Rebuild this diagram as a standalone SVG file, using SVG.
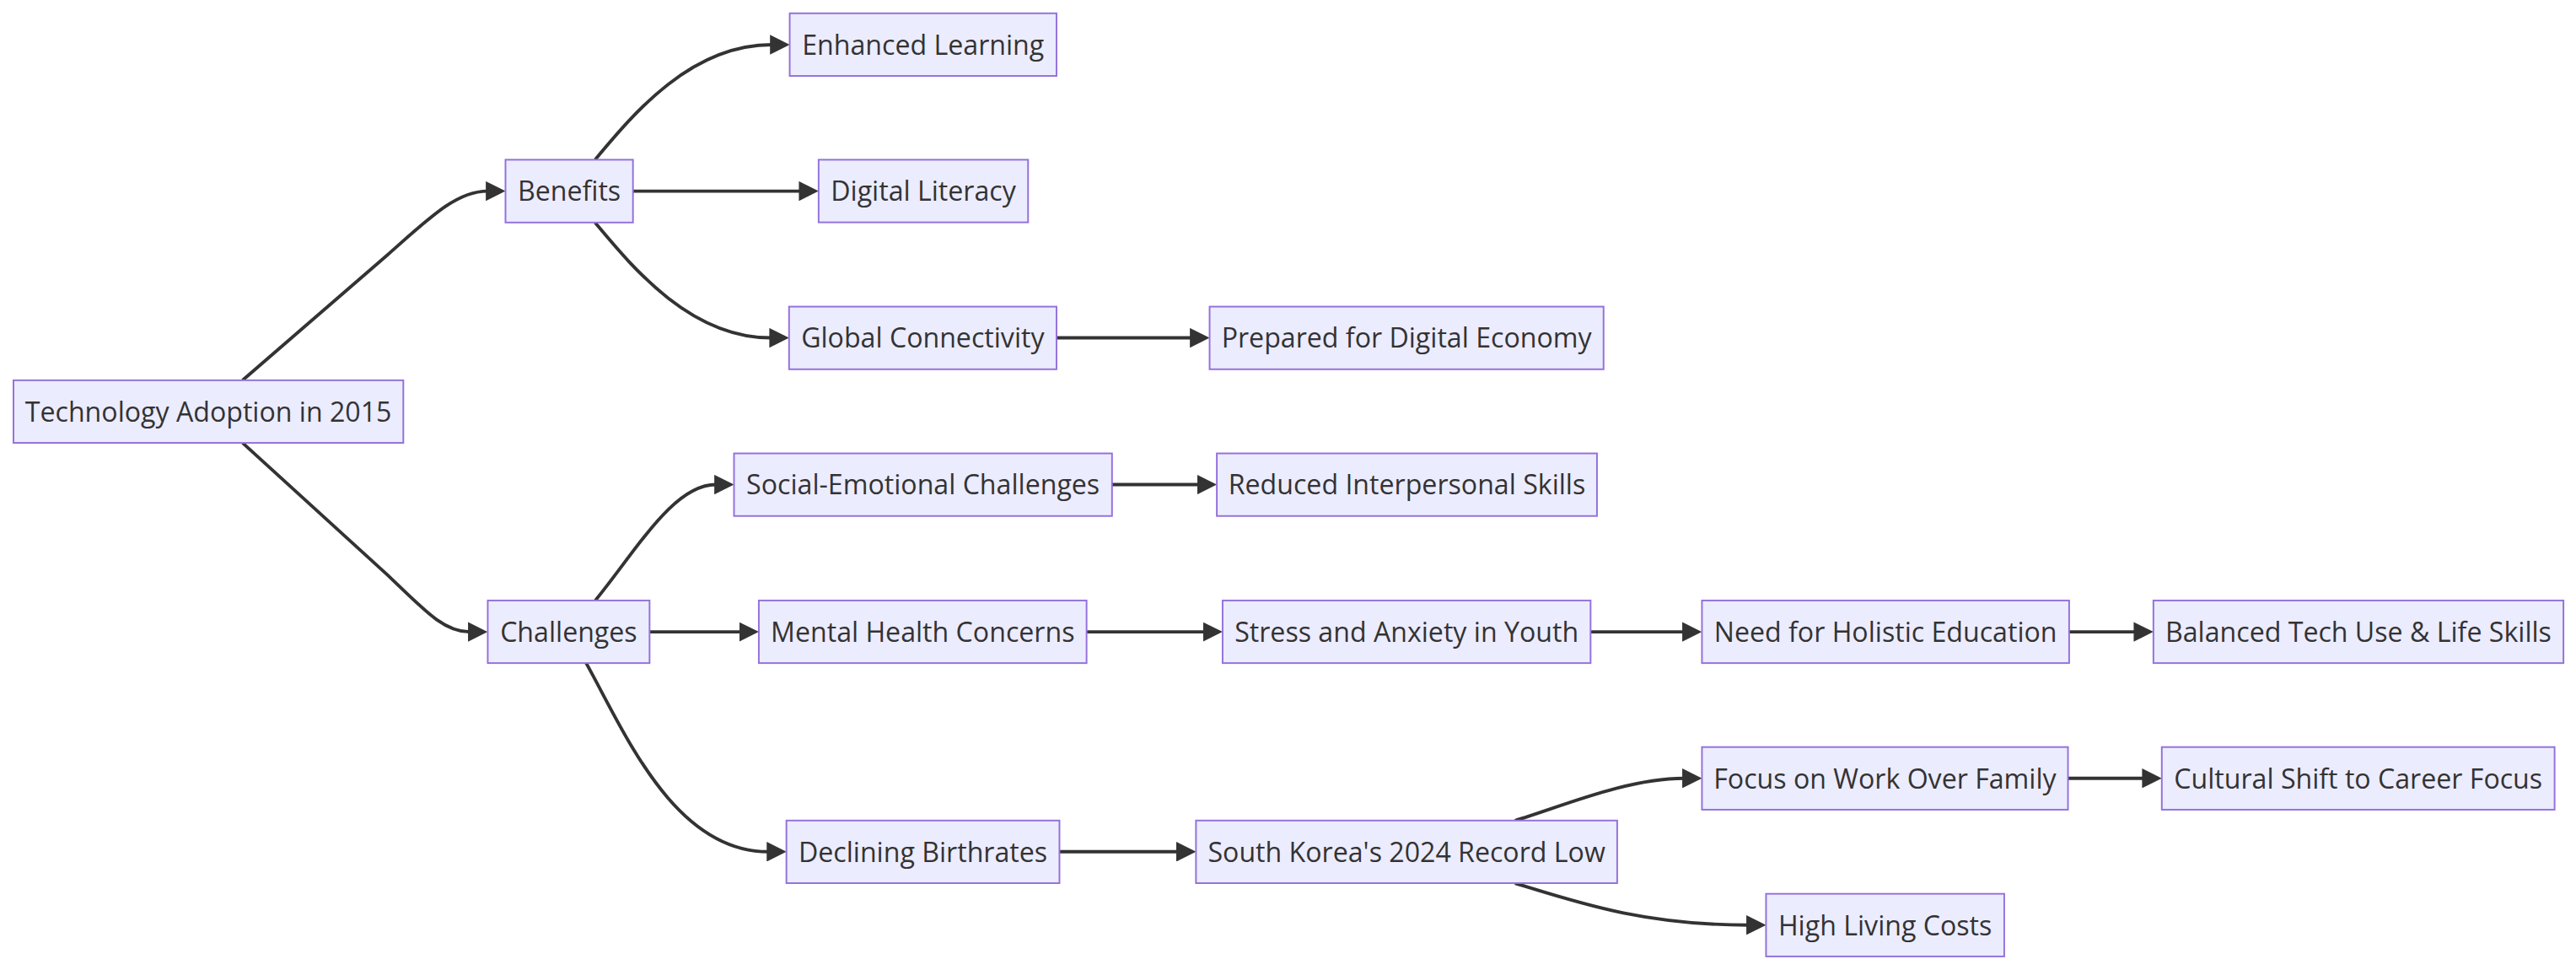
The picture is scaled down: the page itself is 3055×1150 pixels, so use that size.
<svg xmlns="http://www.w3.org/2000/svg" width="3055" height="1150" viewBox="0 0 3055 1150">
<style>
.node rect{fill:#ECECFF;stroke:#9370DB;stroke-width:1px;}
.node text{font-family:"Open Sans","Noto Sans","Liberation Sans",sans-serif;font-size:16.5px;fill:#333333;text-anchor:middle;}
.edge{fill:none;stroke:#333333;stroke-width:2px;}
</style>
<defs>
<marker id="arrow" viewBox="0 0 12 12" refX="1" refY="6" markerWidth="12" markerHeight="12" markerUnits="userSpaceOnUse" orient="auto">
<path d="M0,0 L12,6 L0,12 z" fill="#333333"/>
</marker>
</defs>
<rect x="0" y="0" width="3055" height="1150" fill="#ffffff"/>
<g transform="scale(1.9483)">
<g id="connectors">
<path class="edge" marker-end="url(#arrow)" d="M147.7,231.4 L236,155 C262,132 278,116.3 296.7,116.3"/>
<path class="edge" marker-end="url(#arrow)" d="M147.7,269.5 L236,350 C258,371 270,384.5 285.9,384.5"/>
<path class="edge" marker-end="url(#arrow)" d="M362.2,97.2 C385,70 420,27.2 469.7,27.2"/>
<path class="edge" marker-end="url(#arrow)" d="M385.3,116.3 L487.3,116.3"/>
<path class="edge" marker-end="url(#arrow)" d="M362.2,135.4 C385,162.6 420,205.6 469.3,205.6"/>
<path class="edge" marker-end="url(#arrow)" d="M643.1,205.6 L725.3,205.6"/>
<path class="edge" marker-end="url(#arrow)" d="M362.4,365.4 C388,334 410,294.9 435.8,294.9"/>
<path class="edge" marker-end="url(#arrow)" d="M676.9,294.9 L729.7,294.9"/>
<path class="edge" marker-end="url(#arrow)" d="M395.4,384.5 L450.9,384.5"/>
<path class="edge" marker-end="url(#arrow)" d="M356.8,403.5 C380,445 410,518.3 467.7,518.3"/>
<path class="edge" marker-end="url(#arrow)" d="M661.4,384.5 L733.2,384.5"/>
<path class="edge" marker-end="url(#arrow)" d="M968.2,384.5 L1025,384.5"/>
<path class="edge" marker-end="url(#arrow)" d="M1259.5,384.5 L1299.8,384.5"/>
<path class="edge" marker-end="url(#arrow)" d="M644.9,518.3 L717,518.3"/>
<path class="edge" marker-end="url(#arrow)" d="M922.2,499.3 C950,491 990,473.6 1025,473.6"/>
<path class="edge" marker-end="url(#arrow)" d="M922.2,537.4 C960,549 1000,562.9 1064,562.9"/>
<path class="edge" marker-end="url(#arrow)" d="M1258.8,473.6 L1304.9,473.6"/>
</g>
<g id="n-root" class="node"><rect x="8.2" y="231.4" width="237.3" height="38.1"/><text x="126.85" y="256.5">Technology Adoption in 2015</text></g>
<g id="n-benefits" class="node"><rect x="307.7" y="97.2" width="77.6" height="38.2"/><text x="346.5" y="122.3">Benefits</text></g>
<g id="n-challenges" class="node"><rect x="296.9" y="365.4" width="98.5" height="38.1"/><text x="346.15" y="390.5">Challenges</text></g>
<g id="n-enhanced" class="node"><rect x="480.7" y="8.1" width="162.4" height="38.1"/><text x="561.9" y="33.2">Enhanced Learning</text></g>
<g id="n-digital" class="node"><rect x="498.3" y="97.2" width="127.5" height="38.1"/><text x="562.05" y="122.3">Digital Literacy</text></g>
<g id="n-global" class="node"><rect x="480.3" y="186.6" width="162.8" height="38.1"/><text x="561.7" y="211.7">Global Connectivity</text></g>
<g id="n-prepared" class="node"><rect x="736.3" y="186.6" width="239.8" height="38.1"/><text x="856.2" y="211.7">Prepared for Digital Economy</text></g>
<g id="n-social" class="node"><rect x="446.8" y="275.9" width="230.1" height="38.1"/><text x="561.85" y="301">Social-Emotional Challenges</text></g>
<g id="n-reduced" class="node"><rect x="740.7" y="275.9" width="231.4" height="38.1"/><text x="856.4" y="301">Reduced Interpersonal Skills</text></g>
<g id="n-mental" class="node"><rect x="461.9" y="365.4" width="199.5" height="38.1"/><text x="561.65" y="390.5">Mental Health Concerns</text></g>
<g id="n-stress" class="node"><rect x="744.2" y="365.4" width="224" height="38.1"/><text x="856.2" y="390.5">Stress and Anxiety in Youth</text></g>
<g id="n-need" class="node"><rect x="1036" y="365.4" width="223.5" height="38.1"/><text x="1147.75" y="390.5">Need for Holistic Education</text></g>
<g id="n-balanced" class="node"><rect x="1310.8" y="365.4" width="249.6" height="38.1"/><text x="1435.6" y="390.5">Balanced Tech Use &amp; Life Skills</text></g>
<g id="n-declining" class="node"><rect x="478.7" y="499.3" width="166.2" height="38.1"/><text x="561.8" y="524.4">Declining Birthrates</text></g>
<g id="n-korea" class="node"><rect x="728" y="499.3" width="256.4" height="38.1"/><text x="856.2" y="524.4">South Korea's 2024 Record Low</text></g>
<g id="n-focus" class="node"><rect x="1036" y="454.6" width="222.8" height="38.1"/><text x="1147.4" y="479.7">Focus on Work Over Family</text></g>
<g id="n-cultural" class="node"><rect x="1315.9" y="454.6" width="239.1" height="38.1"/><text x="1435.45" y="479.7">Cultural Shift to Career Focus</text></g>
<g id="n-high" class="node"><rect x="1075" y="543.9" width="145" height="38.1"/><text x="1147.5" y="569">High Living Costs</text></g>
</g>
</svg>
